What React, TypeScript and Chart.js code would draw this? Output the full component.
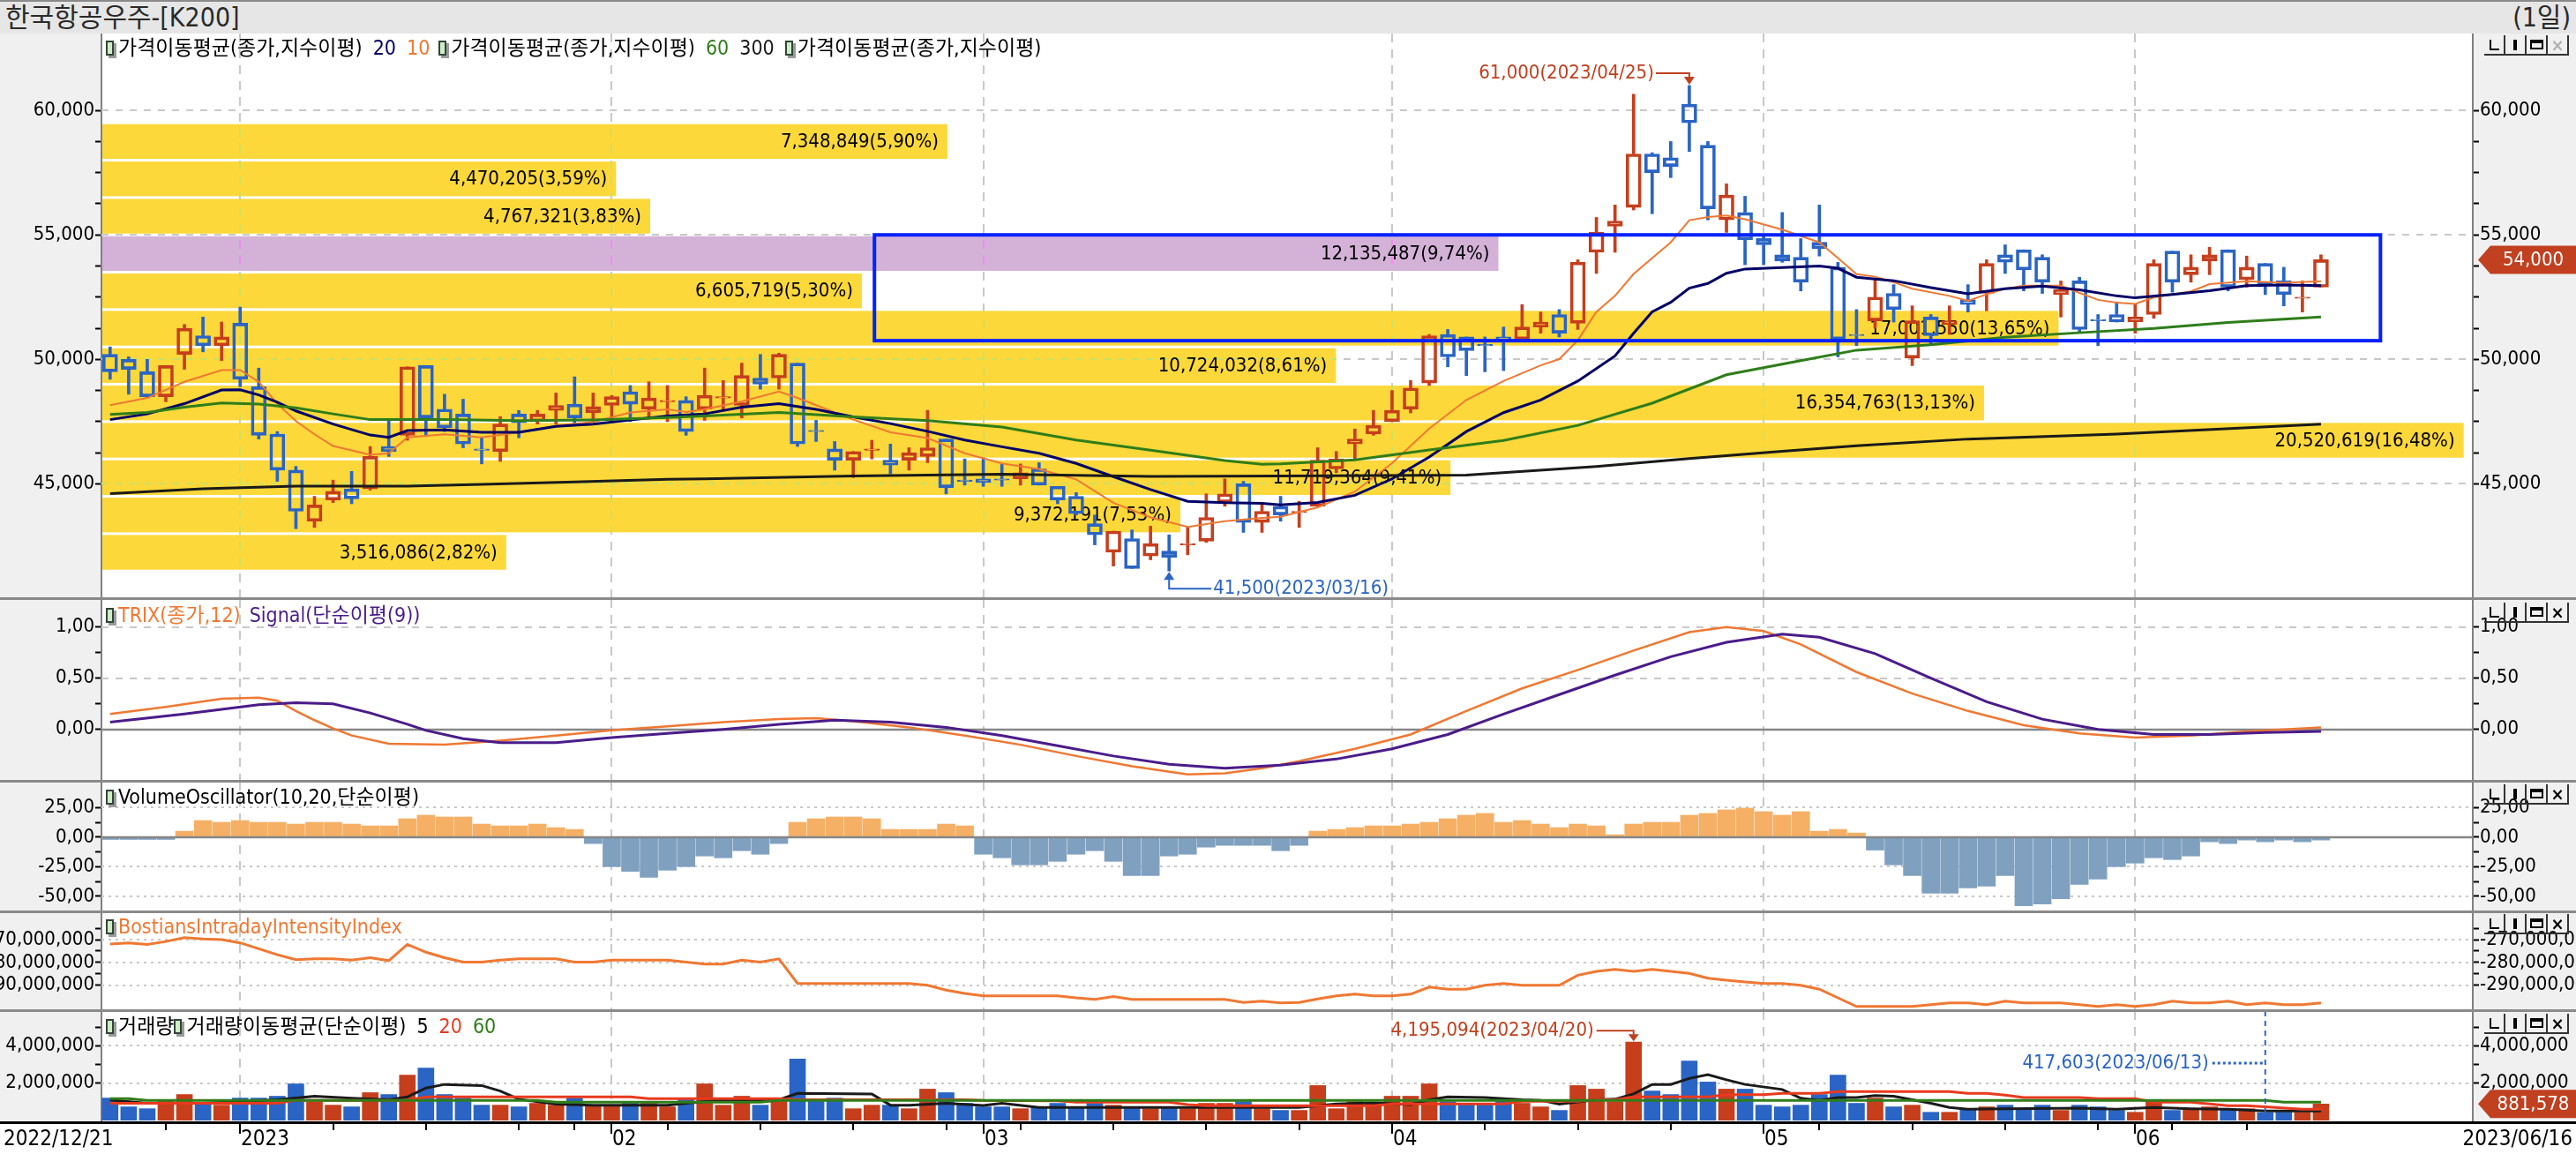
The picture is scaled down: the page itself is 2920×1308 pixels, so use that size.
import React, { useEffect, useRef } from 'react';
import { Chart, registerables } from 'chart.js';

Chart.register(...registerables);

// ================= DATA =================
const FIRST_DATE = '2022/12/21';
const LAST_DATE = '2023/06/16';
const monthStartIdx = [7, 27, 47, 69, 89, 109];
const monthLabels = ['2023', '02', '03', '04', '05', '06'];
const weekStartIdx = [3, 12, 17, 22, 25, 30, 35, 40, 45, 49, 54, 59, 64, 74, 79, 84, 92, 97, 102, 107, 111, 115];

const opens = [
  50200, 50000, 49500, 48500, 50200, 50950, 50550, 51450, 48900, 47000,
  45550, 43500, 44350, 44800, 44800, 46500, 46950, 49750, 48000, 47800,
  46400, 46300, 47800, 47500, 47950, 48200, 47850, 48150, 48700, 48000,
  48300, 48350, 48000, 48450, 48150, 49250, 49250, 49850, 47150, 46400,
  45950, 46350, 45950, 45950, 46100, 46800, 45150, 45200, 45200, 45200,
  45600, 44900, 44500, 43400, 42250, 42800, 42100, 42300, 42550, 42700,
  44250, 45000, 43450, 44100, 43850, 44100, 45600, 46600, 47000, 47500,
  48000, 49050, 51000, 50900, 50600, 50900, 50800, 51300, 51800, 51450,
  54300, 55350, 56100, 58250, 58100, 60250, 58600, 55600, 55900, 54850,
  54200, 54100, 54700, 53700, 51000, 51550, 52650, 50050, 51700, 51400,
  52400, 52650, 54200, 54400, 54100, 52600, 53150, 51600, 51800, 51500,
  51800, 54350, 53400, 53950, 54400, 53200, 53850, 53150, 52450, 52900,
];
const highs = [
  50500, 50100, 50000, 49750, 51400, 51700, 51500, 52100, 49650, 47100,
  45700, 44500, 45150, 45500, 46500, 47600, 49700, 49750, 48600, 48400,
  46850, 47700, 47950, 47950, 48650, 49300, 48650, 48550, 48950, 49100,
  48950, 48500, 49650, 49150, 49850, 50200, 50250, 49850, 47550, 46700,
  46300, 46750, 46600, 46450, 47950, 46800, 46000, 46050, 45800, 45800,
  45850, 44900, 44650, 43750, 43100, 43150, 43300, 42950, 43250, 44600,
  45200, 45100, 44200, 44500, 44300, 46450, 46300, 47200, 47950, 48750,
  49150, 51000, 51200, 50900, 50900, 51300, 52200, 51900, 52000, 54000,
  55700, 56200, 60650, 58300, 58750, 61000, 58750, 57050, 56550, 55000,
  55900, 54850, 56200, 53900, 52000, 53250, 53000, 52150, 51800, 52150,
  53000, 54000, 54600, 54400, 54200, 53150, 53300, 51800, 52300, 52200,
  54000, 54350, 54200, 54500, 54400, 54150, 53850, 53700, 53150, 54200,
];
const lows = [
  49200, 48600, 48450, 48300, 49600, 50300, 49950, 48900, 46800, 45100,
  43200, 43250, 44250, 44200, 44750, 46100, 46750, 46900, 47100, 46450,
  45800, 45900, 46850, 47400, 47400, 47400, 47500, 47500, 47500, 47600,
  47500, 46950, 47550, 48000, 47650, 48800, 48800, 46500, 46700, 45550,
  45250, 46000, 45400, 45550, 45850, 44600, 44950, 44900, 44900, 44950,
  44950, 44200, 43750, 42550, 41700, 41600, 41950, 41500, 42150, 42650,
  44100, 43050, 43050, 43500, 43250, 44100, 45450, 46000, 46950, 47500,
  47850, 48950, 49700, 49350, 49500, 49550, 50800, 51050, 50900, 51200,
  53450, 54300, 56000, 55850, 57300, 58350, 55600, 55100, 53800, 53800,
  53900, 52750, 54150, 50100, 50550, 51250, 51500, 49750, 50600, 51000,
  51900, 51950, 53450, 52750, 52650, 51700, 51050, 50550, 51500, 51050,
  51650, 52700, 53100, 53400, 52750, 52900, 52600, 52150, 51900, 52900,
];
const closes = [
  49500, 49600, 48500, 49750, 51250, 50550, 50900, 49200, 46950, 45550,
  43900, 44150, 44700, 44400, 46100, 46300, 49700, 47650, 47250, 46600,
  46350, 47400, 47450, 47800, 48150, 47650, 48100, 48500, 48200, 48450,
  48350, 47100, 48550, 48500, 49350, 49000, 50200, 46600, 47100, 45950,
  46300, 46400, 45750, 46250, 46450, 44850, 45100, 45050, 45150, 45450,
  44950, 44350, 43800, 42950, 43100, 41600, 42600, 42050, 42600, 43650,
  44600, 43450, 43900, 43750, 43900, 45950, 46000, 46800, 47350, 47950,
  48850, 50950, 50100, 50350, 50550, 50800, 51300, 51500, 51050, 53900,
  55100, 55550, 58250, 57500, 57750, 59500, 56050, 56600, 54800, 54600,
  53950, 53100, 54450, 50800, 50950, 52500, 52000, 51550, 50950, 51550,
  52200, 53850, 53900, 53600, 53100, 52800, 51200, 51550, 51500, 51700,
  53850, 53100, 53700, 54200, 52900, 53700, 53000, 52600, 52500, 54000,
];
// volume, millions of shares
const volumes = [
  1.20, 0.73, 0.63, 1.08, 1.39, 0.92, 0.82, 1.20, 1.20, 1.30,
  1.96, 0.98, 0.82, 0.73, 1.49, 1.39, 2.43, 2.81, 1.39, 1.20,
  0.82, 0.82, 0.73, 0.92, 0.82, 1.20, 0.82, 0.82, 0.92, 0.92,
  0.73, 1.11, 1.96, 0.82, 1.30, 0.82, 1.11, 3.29, 1.11, 1.20,
  0.63, 0.82, 0.82, 0.63, 1.68, 1.49, 0.92, 0.73, 0.73, 0.63,
  0.73, 0.92, 0.73, 0.92, 0.82, 0.73, 0.63, 0.73, 0.63, 0.92,
  0.92, 1.01, 0.63, 0.54, 0.54, 1.87, 0.63, 1.01, 0.92, 1.30,
  1.30, 1.96, 1.01, 0.92, 0.92, 1.11, 0.92, 0.73, 0.54, 1.87,
  1.68, 1.01, 4.195094, 1.58, 1.39, 3.19, 2.06, 1.68, 1.68, 0.82,
  0.73, 0.82, 1.39, 2.43, 0.92, 1.20, 0.73, 0.82, 0.44, 0.44,
  0.63, 0.73, 0.82, 0.63, 0.82, 0.54, 0.82, 0.73, 0.54, 0.44,
  1.01, 0.54, 0.63, 0.73, 0.63, 0.63, 0.417603, 0.44, 0.44, 0.881578,
];

// price moving averages (exponential), [index, value]
const ema10 = [[0,48160],[2,48450],[4,49100],[6,49570],[7,49570],[8,49100],[9,48220],[10,47520],[11,46990],[12,46520],[14,46170],[15,46230],[16,46870],[18,46990],[20,46870],[22,47070],[24,47340],[26,47490],[28,47870],[30,47990],[31,47890],[32,47990],[34,48310],[36,48710],[37,48450],[38,48160],[40,47580],[42,47070],[44,46840],[46,46230],[48,45820],[50,45590],[52,45180],[54,44240],[56,43650],[58,43270],[60,43500],[62,43630],[63,43680],[65,44060],[67,44690],[69,45830],[71,47220],[73,48370],[75,49130],[77,49760],[78,50010],[79,50770],[80,51910],[81,52550],[82,53430],[83,54070],[84,54700],[85,55590],[86,55720],[87,55780],[88,55630],[90,55210],[92,54700],[93,54070],[94,53420],[95,53320],[96,53100],[97,52840],[99,52550],[100,52350],[101,52610],[102,52840],[103,52960],[105,52960],[106,52670],[107,52390],[108,52280],[109,52230],[110,52490],[111,52610],[112,52730],[113,53020],[115,53140],[117,53080],[119,53140]];
const ema20 = [[0,47580],[2,47810],[4,48220],[6,48770],[7,48780],[8,48570],[9,48280],[10,47930],[12,47400],[14,46960],[15,46870],[16,47140],[18,47170],[20,47070],[22,47070],[24,47310],[26,47400],[28,47570],[30,47730],[32,47810],[34,48080],[36,48220],[38,47990],[40,47690],[42,47420],[44,47110],[46,46760],[48,46490],[50,46230],[52,45820],[54,45290],[56,44770],[58,44300],[60,44240],[62,44220],[63,44160],[65,44250],[67,44540],[69,45200],[71,46080],[73,47100],[75,47860],[77,48370],[79,49130],[81,50140],[82,51050],[83,51910],[84,52290],[85,52860],[86,53050],[87,53460],[88,53630],[90,53690],[92,53750],[93,53660],[94,53300],[96,53160],[98,52880],[100,52630],[102,52840],[104,52940],[106,52790],[108,52550],[109,52470],[111,52610],[113,52760],[115,52960],[117,52990],[119,52960]];
const ema60 = [[0,47790],[2,47870],[4,48080],[6,48250],[8,48200],[10,48050],[12,47810],[14,47580],[18,47580],[22,47540],[26,47570],[30,47660],[32,47730],[36,47870],[40,47690],[44,47540],[48,47280],[52,46760],[56,46350],[60,45940],[62,45790],[63,45800],[67,45960],[71,46360],[75,46740],[79,47350],[83,48240],[87,49380],[91,49950],[94,50370],[98,50590],[102,50890],[106,51070],[110,51240],[114,51480],[119,51700]];
const ema300 = [[0,44610],[5,44800],[10,44910],[16,44910],[20,44980],[25,45080],[30,45180],[32,45200],[40,45320],[48,45390],[56,45300],[63,45320],[73,45350],[80,45700],[85,46020],[90,46310],[94,46530],[100,46800],[108,47000],[119,47400]];

// TRIX(12) and its signal line
const trix = [[0,0.15],[3,0.22],[6,0.30],[8,0.31],[9,0.28],[10,0.18],[11,0.09],[12,0.01],[13,-0.06],[15,-0.14],[18,-0.15],[21,-0.11],[24,-0.06],[27,-0.01],[30,0.03],[33,0.07],[36,0.10],[38,0.11],[40,0.08],[43,0.02],[46,-0.06],[49,-0.15],[52,-0.26],[55,-0.36],[58,-0.44],[60,-0.43],[62,-0.38],[64,-0.31],[67,-0.19],[70,-0.05],[73,0.18],[76,0.40],[79,0.58],[82,0.77],[85,0.95],[87,1.00],[89,0.96],[91,0.83],[94,0.56],[97,0.35],[100,0.18],[103,0.04],[106,-0.04],[109,-0.08],[112,-0.06],[115,-0.02],[119,0.02]];
const trixSignal = [[0,0.07],[4,0.15],[8,0.24],[10,0.26],[12,0.25],[14,0.16],[16,0.05],[17,-0.01],[19,-0.09],[21,-0.13],[24,-0.13],[27,-0.08],[30,-0.04],[33,0.00],[36,0.05],[39,0.09],[42,0.07],[45,0.02],[48,-0.06],[51,-0.16],[54,-0.26],[57,-0.34],[60,-0.38],[63,-0.35],[66,-0.29],[69,-0.19],[72,-0.05],[75,0.15],[78,0.34],[81,0.53],[84,0.71],[87,0.85],[90,0.93],[92,0.90],[95,0.74],[98,0.50],[101,0.27],[104,0.10],[107,0.00],[110,-0.05],[113,-0.05],[116,-0.03],[119,-0.02]];

// Volume oscillator (10,20)
const volOsc = [
  -2, -2, -2, -2, 5, 14, 12.5, 14, 12.5, 12.5, 11, 12.5, 12.5, 11, 9.5, 9.5, 15.5, 18.5, 17, 17,
  11, 9.5, 9.5, 11, 8, 6.5, -5.5, -25, -29, -34, -28, -25, -16, -17.5, -11.5, -14.5, -5.5, 12.5, 15.5, 17,
  17, 15.5, 6.5, 6.5, 6.5, 11, 9.5, -14.5, -17.5, -23.5, -23.5, -20.5, -14.5, -11.5, -20.5, -32.5, -32.5, -16, -14.5, -8.5,
  -7, -7, -7, -11.5, -7, 5, 6.5, 8, 9.5, 9.5, 11, 12.5, 15.5, 18.5, 20, 12.5, 14, 11, 8, 11,
  9.5, 2, 11, 12.5, 12.5, 18.5, 20, 23, 24.5, 21.5, 18.5, 21.5, 5, 6.5, 3.5, -11, -23.5, -32.5, -47.5, -47.5,
  -43, -41.5, -32.5, -58, -56.5, -52, -40, -35.5, -25, -22, -17.5, -19, -16, -4, -5.5, -2.5, -4, -2.5, -4, -2.5,
];

// Bostian's Intraday Intensity Index, millions
const bii = [
  -271.9, -271.4, -272.1, -270.8, -269.1, -269.7, -270, -271.4, -274, -276.6,
  -278.8, -278.4, -278.4, -279, -277.9, -279.2, -272.1, -275.5, -277.9, -279.8,
  -279.8, -279, -278.4, -278.4, -278.4, -279.8, -279.8, -279, -279, -279,
  -279, -279.8, -280.7, -280.7, -279, -279.8, -278.4, -289.2, -289.2, -289.2,
  -289.2, -289.2, -289.2, -289.2, -290, -292.1, -293.6, -294.6, -294.6, -294.6,
  -294.6, -294.6, -295.5, -296.2, -294.9, -296.2, -296.2, -296.2, -296.2, -296.2,
  -296.2, -297.5, -297, -297.7, -297.5, -296, -294.6, -293.9, -294.6, -294.6,
  -293.9, -290.8, -291.7, -291.7, -290, -289.2, -290, -290, -290, -285.6,
  -283.9, -283, -283.9, -283, -283.9, -284.8, -286.9, -287.8, -288.5, -289.2,
  -289.2, -290, -291.7, -295.5, -299.3, -299.3, -299.3, -299.3, -298.5, -297.7,
  -297.7, -298.5, -297, -297.7, -297.7, -297.7, -298.5, -299.3, -298.5, -299.3,
  -298.5, -297, -297.7, -297.7, -297, -298.5, -297.7, -298.5, -298.5, -297.7,
];

// volume moving averages (simple), [index, millions]
const vma5 = [[0,1.10],[2,0.92],[5,0.92],[9,1.11],[11,1.30],[13,1.19],[15,1.11],[16,1.26],[17,1.74],[18,1.93],[20,1.87],[21,1.58],[22,1.14],[24,0.87],[26,0.82],[30,0.82],[31,0.92],[33,1.11],[36,1.11],[37,1.45],[41,1.42],[42,0.82],[43,0.82],[45,0.92],[47,0.80],[48,0.92],[50,0.70],[63,0.70],[64,0.70],[66,0.89],[68,0.95],[70,0.85],[71,1.11],[72,1.26],[74,1.23],[76,1.11],[77,1.08],[78,0.87],[80,1.11],[81,1.14],[82,1.42],[83,1.93],[84,1.93],[85,2.25],[86,2.45],[87,2.18],[88,1.93],[90,1.66],[91,1.19],[92,1.08],[93,1.23],[94,1.23],[95,1.33],[96,1.30],[97,1.11],[98,0.92],[99,0.70],[100,0.60],[102,0.63],[106,0.66],[108,0.60],[110,0.70],[112,0.63],[114,0.60],[116,0.51],[119,0.51]];
const vma20 = [[0,0.92],[9,0.92],[10,1.08],[16,1.08],[17,1.26],[28,1.26],[29,1.17],[36,1.17],[37,1.11],[46,1.11],[47,1.08],[51,1.05],[52,0.98],[57,0.98],[58,0.85],[59,0.79],[68,0.79],[69,0.89],[75,0.89],[76,1.03],[79,1.03],[80,1.11],[81,1.11],[82,1.26],[86,1.26],[87,1.38],[89,1.38],[90,1.45],[92,1.45],[93,1.55],[99,1.55],[100,1.45],[101,1.45],[102,1.36],[103,1.23],[106,1.23],[107,1.17],[109,1.17],[110,0.98],[112,0.98],[113,0.89],[114,0.79],[115,0.79],[116,0.73],[118,0.60],[119,0.60]];
const vma60 = [[0,1.17],[1,1.17],[2,1.08],[23,1.08],[24,0.98],[35,0.98],[36,1.08],[116,1.08],[117,0.98],[119,0.98]];

// volume-by-price profile (bands of 1500 from 41,500)
const profileBase = 41500;
const profileStep = 1500;
const profileVolumes = [3516086, 9372191, 11719364, 20520619, 16354763, 10724032, 17001550, 6605719, 12135487, 4767321, 4470205, 7348849];
const profilePercents = [2.82, 7.53, 9.41, 16.48, 13.13, 8.61, 13.65, 5.30, 9.74, 3.83, 3.59, 5.90];

const highMark = { idx: 85, date: '2023/04/25' };
const lowMark = { idx: 57, date: '2023/03/16' };
const volHighMark = { idx: 82, date: '2023/04/20' };
const volLowMark = { idx: 116, date: '2023/06/13' };
const userBox = { x0: 41.14, x1: 122.2, top: 55000, bottom: 50750 };

// ================= STYLE =================
const W = 2920;
const AXL = 115;
const AXR = 117;
const XMIN = -0.466;
const XMAX = 127.17;
const FONT = '"DejaVu Sans Condensed", "Noto Sans CJK KR", sans-serif';
const UP = '#c63e1c';
const DOWN = '#2a64c4';
const TAG = '#c0401f';
const ORANGE = '#f07832';
const NAVY = '#000066';
const GREEN = '#2f7d1a';
const BLACK = '#1a1a1a';
const PURPLE_LINE = '#4a1c8a';
const VRED = '#e83a1e';
const YELLOW = '#fcd83a';
const LILAC = '#d4b2d8';
const GRID = '#c8c8c8';
const AXBG = '#f0f0f0';

const idxs = closes.map((_, i) => i);
const isUp = (i: number) => closes[i] >= opens[i];
const candleColors = idxs.map((i) => (isUp(i) ? UP : DOWN));
const fmtInt = (n: number) => Math.round(n).toLocaleString('en-US');
const fmt2 = (n: number) => n.toFixed(2).replace('.', ',');

// ================= HELPERS =================
function yAxis(pos: 'left' | 'right', min: number, max: number, vals: number[], label: (v: number) => string) {
  return {
    type: 'linear',
    position: pos,
    min,
    max,
    bounds: 'data',
    offset: false,
    afterBuildTicks: (s: any) => {
      s.ticks = vals.map((v) => ({ value: v }));
    },
    afterFit: (s: any) => {
      s.width = pos === 'left' ? AXL : AXR;
      s.paddingTop = 0;
      s.paddingBottom = 0;
    },
    ticks: { autoSkip: false, padding: 1, color: '#000', font: { family: FONT, size: 22 }, callback: (v: any) => label(Number(v)) },
    grid: { drawOnChartArea: false, drawTicks: true, tickLength: 7, tickColor: '#000', tickWidth: 2 },
    border: { display: true, color: '#808080', width: 2 },
  };
}

function baseOptions(min: number, max: number, vals: number[], label: (v: number) => string, extra: any = {}) {
  return {
    responsive: true,
    maintainAspectRatio: false,
    animation: false,
    events: [],
    layout: { padding: { left: 0, right: 0, top: 0, bottom: extra.padBottom || 0 } },
    plugins: { legend: { display: false }, tooltip: { enabled: false } },
    scales: {
      x: { type: 'linear', min: XMIN, max: XMAX, display: false, offset: false },
      y: yAxis('left', min, max, vals, label),
      yr: yAxis('right', min, max, vals, label),
      ...(extra.scales || {}),
    },
  };
}

const lineDs = (pts: number[][], color: string, width: number) => ({
  type: 'line',
  data: pts.map(([x, y]) => ({ x, y })),
  borderColor: color,
  borderWidth: width,
  pointRadius: 0,
  fill: false,
  tension: 0,
  order: 1,
  xAxisID: 'x',
  yAxisID: 'y',
});

function drawGrid(chart: any, hVals: number[], hDash: number[], color: string) {
  const { ctx, chartArea: a, scales } = chart;
  ctx.save();
  ctx.strokeStyle = color;
  ctx.lineWidth = 2;
  ctx.setLineDash(hDash);
  hVals.forEach((v) => {
    const py = Math.round(scales.y.getPixelForValue(v));
    ctx.beginPath();
    ctx.moveTo(a.left, py);
    ctx.lineTo(a.right, py);
    ctx.stroke();
  });
  ctx.setLineDash([10, 8]);
  monthStartIdx.forEach((i) => {
    const px = Math.round(scales.x.getPixelForValue(i));
    ctx.beginPath();
    ctx.moveTo(px, a.top);
    ctx.lineTo(px, a.bottom);
    ctx.stroke();
  });
  ctx.restore();
}

function drawZero(chart: any) {
  const { ctx, chartArea: a, scales } = chart;
  const py = Math.round(scales.y.getPixelForValue(0));
  ctx.save();
  ctx.strokeStyle = '#868686';
  ctx.lineWidth = 2.5;
  ctx.beginPath();
  ctx.moveTo(a.left, py);
  ctx.lineTo(a.right, py);
  ctx.stroke();
  ctx.restore();
}

function drawTag(chart: any, value: number, text: string) {
  const { ctx, chartArea: a, scales, width } = chart;
  const py = scales.y.getPixelForValue(value);
  const x0 = a.right + 6;
  ctx.save();
  ctx.fillStyle = TAG;
  ctx.beginPath();
  ctx.moveTo(x0, py);
  ctx.lineTo(x0 + 14, py - 16);
  ctx.lineTo(width, py - 16);
  ctx.lineTo(width, py + 16);
  ctx.lineTo(x0 + 14, py + 16);
  ctx.closePath();
  ctx.fill();
  ctx.fillStyle = '#fff';
  ctx.font = `22px ${FONT}`;
  ctx.textAlign = 'center';
  ctx.textBaseline = 'middle';
  ctx.fillText(text, (x0 + 14 + width) / 2, py + 1);
  ctx.restore();
}

// ================= CHART CONFIGS =================
function priceConfig() {
  const hVals = [45000, 50000, 55000, 60000];
  const curBand = Math.floor((closes[closes.length - 1] - profileBase) / profileStep);
  const plugin = {
    id: 'pricePanel',
    beforeDatasetsDraw(chart: any) {
      const { ctx, chartArea: a, scales } = chart;
      drawGrid(chart, hVals, [8, 8], GRID);
      const rects = profileVolumes.map((v, k) => {
        const lo = profileBase + k * profileStep;
        const y1 = scales.y.getPixelForValue(lo + profileStep) + 1.5;
        const y2 = scales.y.getPixelForValue(lo) - 1.5;
        return { x1: a.left + 1, y1, x2: scales.xv.getPixelForValue(v), y2, cur: k === curBand };
      });
      rects.forEach((r) => {
        ctx.fillStyle = r.cur ? LILAC : YELLOW;
        ctx.fillRect(r.x1, r.y1, r.x2 - r.x1, r.y2 - r.y1);
      });
      rects.forEach((r) => {
        ctx.save();
        ctx.beginPath();
        ctx.rect(r.x1, r.y1, r.x2 - r.x1, r.y2 - r.y1);
        ctx.clip();
        drawGrid(chart, hVals, [8, 8], r.cur ? '#f08cf0' : '#cfe060');
        ctx.restore();
      });
      ctx.save();
      ctx.fillStyle = '#000';
      ctx.font = `22px ${FONT}`;
      ctx.textAlign = 'right';
      ctx.textBaseline = 'middle';
      rects.forEach((r, k) => {
        ctx.fillText(`${fmtInt(profileVolumes[k])}(${fmt2(profilePercents[k])}%)`, r.x2 - 10, (r.y1 + r.y2) / 2 + 1);
      });
      ctx.restore();
    },
    afterDatasetsDraw(chart: any) {
      const { ctx, scales } = chart;
      const { x, y } = scales;
      ctx.save();
      // user drawn box
      ctx.strokeStyle = '#0022ff';
      ctx.lineWidth = 4;
      const bx0 = x.getPixelForValue(userBox.x0);
      const bx1 = x.getPixelForValue(userBox.x1);
      const by0 = y.getPixelForValue(userBox.top);
      const by1 = y.getPixelForValue(userBox.bottom);
      ctx.strokeRect(bx0, by0, bx1 - bx0, by1 - by0);
      // highest mark
      ctx.font = `22px ${FONT}`;
      ctx.textBaseline = 'middle';
      ctx.lineWidth = 2;
      const hx = x.getPixelForValue(highMark.idx);
      const hy = y.getPixelForValue(highs[highMark.idx]);
      const hly = hy - 14;
      ctx.fillStyle = TAG;
      ctx.strokeStyle = TAG;
      ctx.textAlign = 'right';
      ctx.fillText(`${fmtInt(highs[highMark.idx])}(${highMark.date})`, hx - 40, hly);
      ctx.beginPath();
      ctx.moveTo(hx - 38, hly);
      ctx.lineTo(hx, hly);
      ctx.lineTo(hx, hy - 6);
      ctx.stroke();
      ctx.beginPath();
      ctx.moveTo(hx - 6, hy - 10);
      ctx.lineTo(hx + 6, hy - 10);
      ctx.lineTo(hx, hy - 1);
      ctx.closePath();
      ctx.fill();
      // lowest mark
      const lx = x.getPixelForValue(lowMark.idx);
      const ly = y.getPixelForValue(lows[lowMark.idx]);
      const lly = ly + 20;
      ctx.fillStyle = DOWN;
      ctx.strokeStyle = DOWN;
      ctx.beginPath();
      ctx.moveTo(lx, ly + 6);
      ctx.lineTo(lx, lly);
      ctx.lineTo(lx + 48, lly);
      ctx.stroke();
      ctx.beginPath();
      ctx.moveTo(lx - 6, ly + 10);
      ctx.lineTo(lx + 6, ly + 10);
      ctx.lineTo(lx, ly + 1);
      ctx.closePath();
      ctx.fill();
      ctx.textAlign = 'left';
      ctx.fillText(`${fmtInt(lows[lowMark.idx])}(${lowMark.date})`, lx + 50, lly);
      ctx.restore();
    },
    afterDraw(chart: any) {
      drawTag(chart, closes[closes.length - 1], fmtInt(closes[closes.length - 1]));
    },
  };
  const priceTicks = [45000, 46250, 47500, 48750, 50000, 51250, 52500, 53750, 55000, 56250, 57500, 58750, 60000];
  return {
    type: 'bar',
    data: {
      datasets: [
        lineDs(ema300, BLACK, 3),
        lineDs(ema60, GREEN, 3),
        lineDs(ema20, NAVY, 3),
        lineDs(ema10, ORANGE, 2),
        {
          type: 'bar',
          data: idxs.map((i) => ({ x: i, y: [Math.max(opens[i], closes[i]), highs[i]] })),
          backgroundColor: candleColors,
          borderWidth: 0,
          barThickness: 3,
          grouped: false,
          order: 2,
          xAxisID: 'x',
          yAxisID: 'y',
        },
        {
          type: 'bar',
          data: idxs.map((i) => ({ x: i, y: [lows[i], Math.min(opens[i], closes[i])] })),
          backgroundColor: candleColors,
          borderWidth: 0,
          barThickness: 3,
          grouped: false,
          order: 2,
          xAxisID: 'x',
          yAxisID: 'y',
        },
        {
          type: 'bar',
          data: idxs.map((i) => ({ x: i, y: [opens[i], closes[i]] })),
          backgroundColor: 'rgba(0,0,0,0)',
          borderColor: candleColors,
          borderWidth: 3,
          borderSkipped: false,
          barThickness: 17,
          grouped: false,
          order: 2,
          xAxisID: 'x',
          yAxisID: 'y',
        },
      ],
    },
    options: baseOptions(40373, 63087, priceTicks, (v) => (v % 5000 === 0 ? fmtInt(v) : ''), {
      scales: { xv: { type: 'linear', axis: 'x', display: false, offset: false, bounds: 'data', min: 0, max: 20600000 } },
    }),
    plugins: [plugin],
  };
}

function trixConfig() {
  const plugin = {
    id: 'trixPanel',
    beforeDatasetsDraw(chart: any) {
      drawGrid(chart, [0.5, 1], [8, 8], GRID);
      drawZero(chart);
    },
  };
  return {
    type: 'bar',
    data: { datasets: [lineDs(trixSignal, PURPLE_LINE, 3), lineDs(trix, ORANGE, 2.5)] },
    options: baseOptions(-0.511, 1.273, [0, 0.25, 0.5, 0.75, 1], (v) => ([0, 0.5, 1].includes(v) ? fmt2(v) : '')),
    plugins: [plugin],
  };
}

function voConfig() {
  const plugin = {
    id: 'voPanel',
    beforeDatasetsDraw(chart: any) {
      drawGrid(chart, [25, -25, -50], [3, 5], GRID);
    },
    afterDatasetsDraw(chart: any) {
      drawZero(chart);
    },
  };
  return {
    type: 'bar',
    data: {
      datasets: [
        {
          type: 'bar',
          data: volOsc.map((v, i) => ({ x: i, y: v })),
          backgroundColor: volOsc.map((v) => (v >= 0 ? '#f5b066' : '#80a0c0')),
          borderWidth: 0,
          barThickness: 20,
          grouped: false,
          order: 2,
          xAxisID: 'x',
          yAxisID: 'y',
        },
      ],
    },
    options: baseOptions(-63.5, 46.8, [-50, -37.5, -25, -12.5, 0, 12.5, 25], (v) => ([-50, -25, 0, 25].includes(v) ? fmt2(v) : '')),
    plugins: [plugin],
  };
}

function biiConfig() {
  const plugin = {
    id: 'biiPanel',
    beforeDatasetsDraw(chart: any) {
      drawGrid(chart, [-270, -280, -290], [3, 5], GRID);
    },
  };
  return {
    type: 'bar',
    data: { datasets: [lineDs(bii.map((v, i) => [i, v]), ORANGE, 3)] },
    options: baseOptions(-301.3, -258.0, [-290, -285, -280, -275, -270, -265], (v) => ([-290, -280, -270].includes(v) ? fmtInt(v * 1e6) : '')),
    plugins: [plugin],
  };
}

function volumeConfig() {
  const plugin = {
    id: 'volPanel',
    beforeDatasetsDraw(chart: any) {
      drawGrid(chart, [2, 4], [3, 5], GRID);
    },
    afterDatasetsDraw(chart: any) {
      const { ctx, chartArea: a, scales } = chart;
      const { x, y } = scales;
      ctx.save();
      ctx.font = `22px ${FONT}`;
      ctx.textBaseline = 'middle';
      ctx.lineWidth = 2;
      // highest volume
      const hx = x.getPixelForValue(volHighMark.idx);
      const hy = y.getPixelForValue(volumes[volHighMark.idx]);
      const hly = hy - 13;
      ctx.fillStyle = TAG;
      ctx.strokeStyle = TAG;
      ctx.textAlign = 'right';
      ctx.fillText(`${fmtInt(volumes[volHighMark.idx] * 1e6)}(${volHighMark.date})`, hx - 45, hly);
      ctx.beginPath();
      ctx.moveTo(hx - 42, hly);
      ctx.lineTo(hx, hly);
      ctx.lineTo(hx, hy - 5);
      ctx.stroke();
      ctx.beginPath();
      ctx.moveTo(hx - 6, hy - 9);
      ctx.lineTo(hx + 6, hy - 9);
      ctx.lineTo(hx, hy - 1);
      ctx.closePath();
      ctx.fill();
      // lowest volume
      const lx = x.getPixelForValue(volLowMark.idx);
      const ly = y.getPixelForValue(volumes[volLowMark.idx]);
      const lly = a.top + 59;
      ctx.fillStyle = DOWN;
      ctx.strokeStyle = DOWN;
      ctx.setLineDash([6, 5]);
      ctx.beginPath();
      ctx.moveTo(lx, a.top);
      ctx.lineTo(lx, ly);
      ctx.stroke();
      ctx.setLineDash([3, 3]);
      ctx.lineWidth = 3;
      ctx.beginPath();
      ctx.moveTo(lx - 60, lly);
      ctx.lineTo(lx, lly);
      ctx.stroke();
      ctx.setLineDash([]);
      ctx.fillText(`${fmtInt(volumes[volLowMark.idx] * 1e6)}(${volLowMark.date})`, lx - 64, lly);
      ctx.restore();
    },
    afterDraw(chart: any) {
      const { ctx, chartArea: a, scales, width } = chart;
      const x = scales.x;
      const last = volumes[volumes.length - 1];
      drawTag(chart, last, fmtInt(last * 1e6));
      // date axis
      const base = a.bottom + 1;
      ctx.save();
      ctx.fillStyle = '#000';
      ctx.fillRect(0, base, width, 3);
      ctx.strokeStyle = '#000';
      ctx.lineWidth = 2;
      weekStartIdx.forEach((i) => {
        const px = Math.round(x.getPixelForValue(i));
        ctx.beginPath();
        ctx.moveTo(px, base + 3);
        ctx.lineTo(px, base + 10);
        ctx.stroke();
      });
      monthStartIdx.forEach((i) => {
        const px = Math.round(x.getPixelForValue(i));
        ctx.beginPath();
        ctx.moveTo(px, base + 3);
        ctx.lineTo(px, base + 14);
        ctx.stroke();
      });
      ctx.font = `24px ${FONT}`;
      ctx.textBaseline = 'top';
      ctx.textAlign = 'left';
      ctx.fillText(FIRST_DATE, 4, base + 9);
      monthStartIdx.forEach((i, k) => {
        const px = Math.round(x.getPixelForValue(i));
        ctx.fillText(monthLabels[k], px + 1, base + 9);
      });
      ctx.textAlign = 'right';
      ctx.fillText(LAST_DATE, width - 4, base + 9);
      ctx.restore();
    },
  };
  return {
    type: 'bar',
    data: {
      datasets: [
        lineDs(vma60, GREEN, 3),
        lineDs(vma20, VRED, 3),
        lineDs(vma5, BLACK, 3),
        {
          type: 'bar',
          data: volumes.map((v, i) => ({ x: i, y: v })),
          backgroundColor: candleColors,
          borderWidth: 0,
          barThickness: 18,
          grouped: false,
          order: 2,
          xAxisID: 'x',
          yAxisID: 'y',
        },
      ],
    },
    options: baseOptions(0, 5.857, [2, 3, 4, 5], (v) => ([2, 4].includes(v) ? fmtInt(v * 1e6) : ''), { padBottom: 38 }),
    plugins: [plugin],
  };
}

// ================= COMPONENTS =================
function ChartPanel({ top, height, make }: { top: number; height: number; make: () => any }) {
  const ref = useRef<HTMLCanvasElement>(null);
  useEffect(() => {
    const chart = new Chart(ref.current as HTMLCanvasElement, make() as any);
    return () => chart.destroy();
  }, []);
  return (
    <div style={{ position: 'absolute', left: 0, top, width: W, height }}>
      <canvas ref={ref} />
    </div>
  );
}

function Icon() {
  return (
    <span
      style={{
        display: 'inline-block',
        width: 9,
        height: 17,
        background: '#cdeec4',
        border: '2px solid #33443a',
        boxShadow: '3px 3px 0 #9a9a9a',
        marginRight: 5,
        verticalAlign: 'middle',
        boxSizing: 'border-box',
      }}
    />
  );
}

function Legend({ top, children }: { top: number; children: React.ReactNode }) {
  return (
    <div
      style={{
        position: 'absolute',
        left: 120,
        top,
        height: 26,
        display: 'flex',
        alignItems: 'center',
        whiteSpace: 'nowrap',
        font: `23px ${FONT}`,
        color: '#000',
        lineHeight: '26px',
      }}
    >
      {children}
    </div>
  );
}

function Buttons({ top, dim }: { top: number; dim?: boolean }) {
  const cell: React.CSSProperties = {
    width: 24,
    height: 21,
    borderRight: '2px solid #333',
    display: 'flex',
    alignItems: 'center',
    justifyContent: 'center',
    boxSizing: 'border-box',
  };
  return (
    <div style={{ position: 'absolute', left: 2816, top, display: 'flex', borderBottom: '2px solid #333' }}>
      <div style={cell}>
        <div style={{ width: 11, height: 12, borderLeft: '2px solid #000', borderBottom: '2px solid #000', boxSizing: 'border-box' }} />
      </div>
      <div style={cell}>
        <div style={{ width: 4, height: 12, background: '#000' }} />
      </div>
      <div style={cell}>
        <div style={{ width: 15, height: 11, border: '2px solid #000', borderTopWidth: 4, boxSizing: 'border-box' }} />
      </div>
      <div style={cell}>
        <span style={{ font: `bold 20px ${FONT}`, color: dim ? '#b0b0b0' : '#000', lineHeight: '20px' }}>×</span>
      </div>
    </div>
  );
}

const PANELS = [
  { top: 38, height: 641, make: priceConfig },
  { top: 679, height: 207, make: trixConfig },
  { top: 886, height: 148, make: voConfig },
  { top: 1034, height: 112, make: biiConfig },
  { top: 1146, height: 162, make: volumeConfig },
];

export default function App() {
  useEffect(() => {
    document.body.style.margin = '0';
    document.body.style.overflow = 'hidden';
  }, []);
  return (
    <div style={{ position: 'absolute', left: 0, top: 0, width: W, height: 1308, background: '#fff', overflow: 'hidden' }}>
      {/* axis column backgrounds */}
      <div style={{ position: 'absolute', left: 0, top: 38, width: AXL, height: 1233, background: AXBG }} />
      <div style={{ position: 'absolute', left: W - AXR, top: 38, width: AXR, height: 1233, background: AXBG }} />
      {/* title bar */}
      <div
        style={{
          position: 'absolute',
          left: 0,
          top: 0,
          width: W,
          height: 38,
          background: '#e6e6e6',
          borderTop: '2px solid #8a8a8a',
          boxSizing: 'border-box',
          font: `30px ${FONT}`,
          color: '#2a2a2a',
        }}
      >
        <span style={{ position: 'absolute', left: 6, top: 0, lineHeight: '35px' }}>한국항공우주-[K200]</span>
        <span style={{ position: 'absolute', right: 6, top: 0, lineHeight: '35px' }}>(1일)</span>
      </div>
      {PANELS.map((p, i) => (
        <ChartPanel key={i} top={p.top} height={p.height} make={p.make} />
      ))}
      {/* panel separators */}
      {[679, 886, 1034, 1146].map((y) => (
        <div key={y} style={{ position: 'absolute', left: 0, top: y - 2, width: W, height: 3, background: '#8a8a8a' }} />
      ))}
      {/* legends */}
      <Legend top={41}>
        <Icon />
        <span>가격이동평균(종가,지수이평)</span>
        <span style={{ color: NAVY, marginLeft: 12 }}>20</span>
        <span style={{ color: ORANGE, marginLeft: 12 }}>10</span>
        <span style={{ marginLeft: 10 }} />
        <Icon />
        <span>가격이동평균(종가,지수이평)</span>
        <span style={{ color: GREEN, marginLeft: 12 }}>60</span>
        <span style={{ color: BLACK, marginLeft: 12 }}>300</span>
        <span style={{ marginLeft: 12 }} />
        <Icon />
        <span>가격이동평균(종가,지수이평)</span>
      </Legend>
      <Legend top={684}>
        <Icon />
        <span style={{ color: ORANGE }}>TRIX(종가,12)</span>
        <span style={{ color: PURPLE_LINE, marginLeft: 10 }}>Signal(단순이평(9))</span>
      </Legend>
      <Legend top={890}>
        <Icon />
        <span>VolumeOscillator(10,20,단순이평)</span>
      </Legend>
      <Legend top={1037}>
        <Icon />
        <span style={{ color: ORANGE }}>BostiansIntradayIntensityIndex</span>
      </Legend>
      <Legend top={1150}>
        <Icon />
        <span>거래량</span>
        <Icon />
        <span>거래량이동평균(단순이평)</span>
        <span style={{ marginLeft: 12 }}>5</span>
        <span style={{ color: VRED, marginLeft: 12 }}>20</span>
        <span style={{ color: GREEN, marginLeft: 12 }}>60</span>
      </Legend>
      <Buttons top={40} dim />
      <Buttons top={683} />
      <Buttons top={889} />
      <Buttons top={1036} />
      <Buttons top={1149} />
    </div>
  );
}
